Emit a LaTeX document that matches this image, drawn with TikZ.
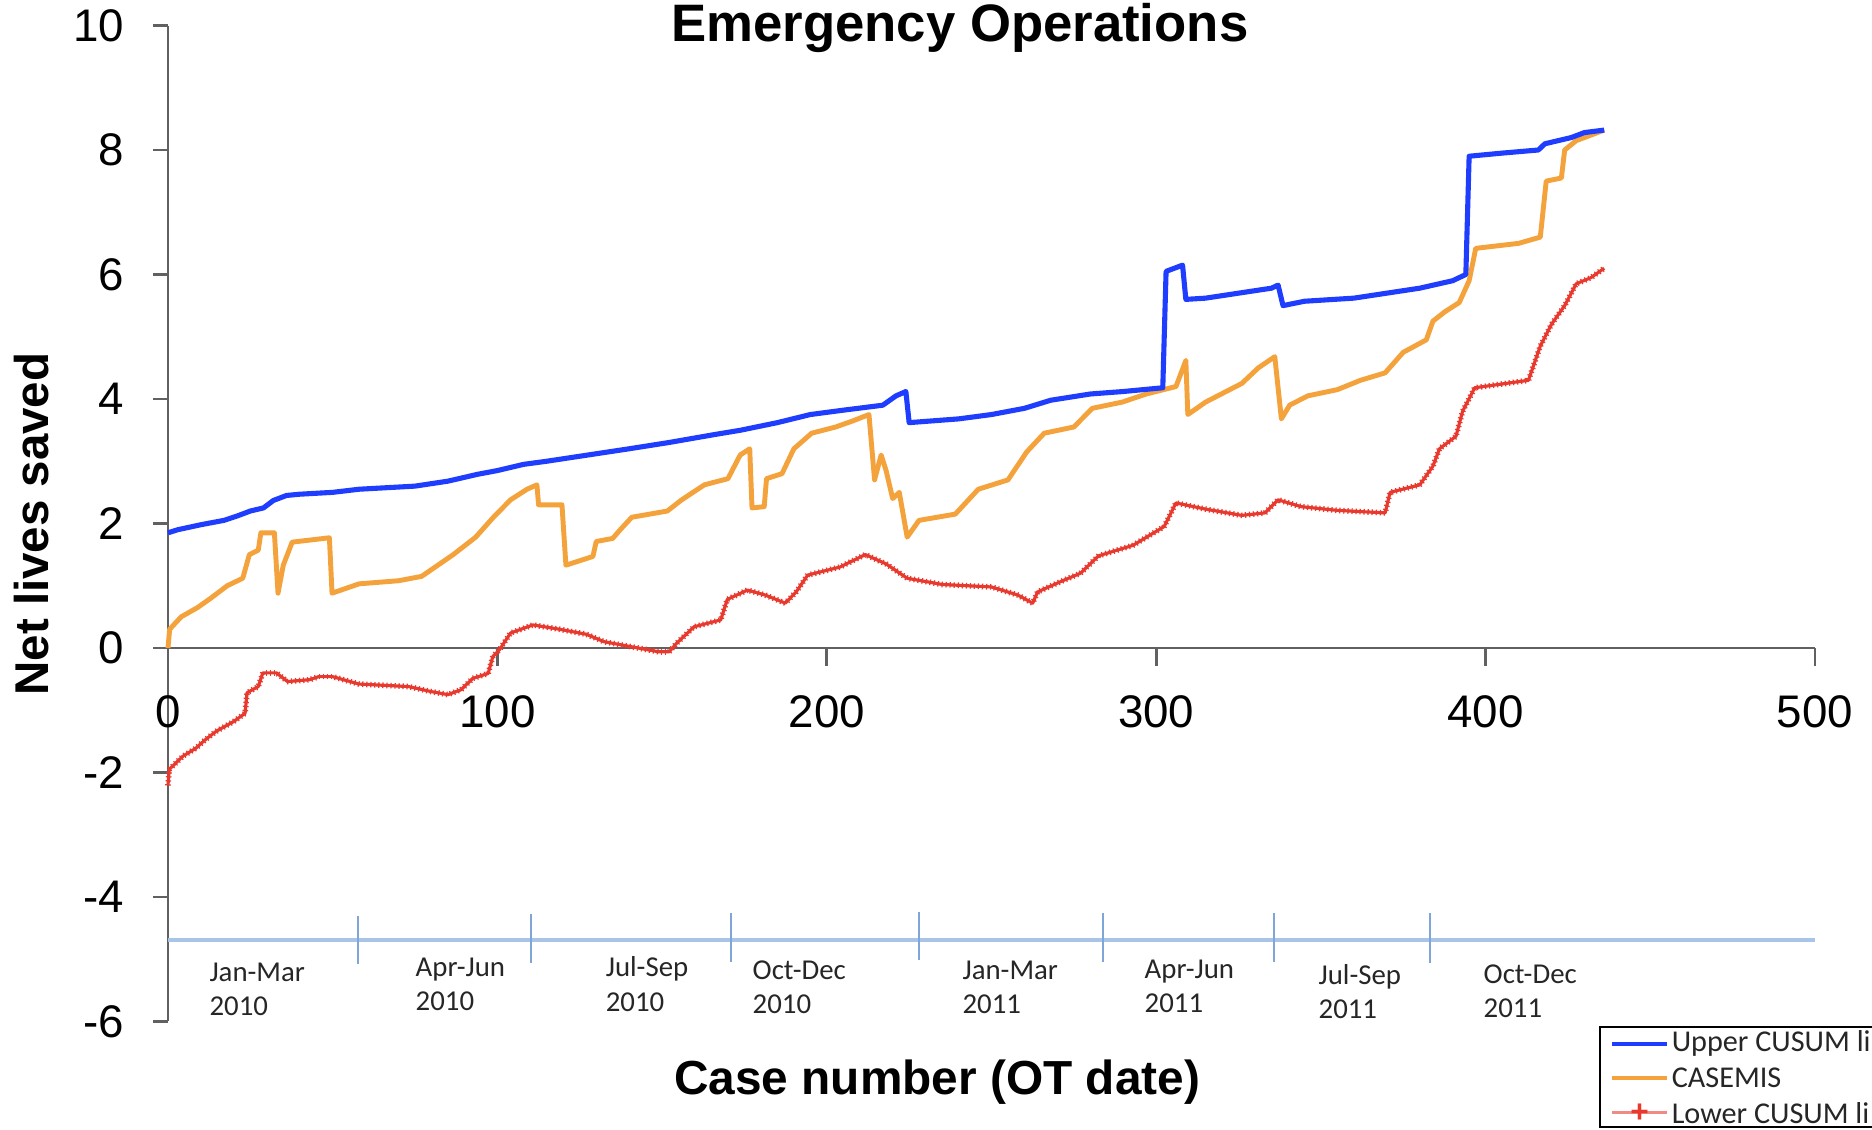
\documentclass[tikz,border=0pt]{standalone}
\usepackage{fontspec}
\setmainfont{Liberation Sans}
\newfontfamily\calib{Carlito}
\usetikzlibrary{calc,decorations.markings}
\definecolor{upperblue}{HTML}{1E3DFF}
\definecolor{casorange}{HTML}{F4A33C}
\definecolor{lowred}{HTML}{E8392E}
\definecolor{legred}{HTML}{F08A84}
\definecolor{qline}{HTML}{A8C4E6}
\definecolor{qsep}{HTML}{7EA6D8}
\begin{document}
\begin{tikzpicture}[x=0.03294cm, y=0.6225cm,
  axis/.style={draw=black!62, line width=0.8pt},
  upper/.style={draw=upperblue, line width=1.45pt, line join=round},
  casemis/.style={draw=casorange, line width=1.4pt, line join=round},
  lower/.style={draw=lowred, line width=0.9pt, line join=round,
    postaction={decorate, decoration={markings,
      mark=between positions 0 and 1 step 1.15pt with {\draw[lowred, line width=0.35pt] (0,-0.8pt) -- (0,0.8pt);}}}},
  ticklab/.style={font=\fontsize{13}{15}\selectfont},
  qlab/.style={font=\calib\fontsize{8.2}{9.7}\selectfont, align=left, anchor=west, inner sep=0pt, text=black!85},
  leglab/.style={font=\calib\fontsize{8.6}{10}\selectfont, anchor=west, inner sep=0pt, text=black!85}]
\useasboundingbox (-51,-7.743) rectangle (517.3,10.41);
\clip (-51,-7.743) rectangle (517.3,10.41);

% axes
\draw[axis] (0,-6) -- (0,10);
\draw[axis] (0,0) -- (500,0);
\foreach \y in {-6,-4,...,10} {
  \draw[axis] (-4.55,\y) -- (0,\y);
  \node[ticklab, anchor=east, inner sep=0pt] (y\y) at (-13.05,\y) {\y};
}
\foreach \x in {100,200,...,500}
  \draw[axis] (\x,0) -- (\x,-0.29);
\foreach \x in {0,100,...,500}
  \node[ticklab] (x\x) at (\x,-1.03) {\x};

\node[font=\bfseries\fontsize{15}{18}\selectfont, anchor=base] (title) at (240.4,9.75) {Emergency Operations};
\node[font=\bfseries\fontsize{13.6}{16}\selectfont, anchor=base] (xlab) at (233.5,-7.18) {Case number (OT date)};
\node[font=\bfseries\fontsize{13.5}{16}\selectfont, rotate=90, anchor=base] (ylab) at (-36.4,1.99) {Net lives saved};

% quarters
\draw[qline, line width=1.1pt] (0,-4.69) -- (500,-4.69);
\foreach \q/\t/\b in {57.7/-4.30/-5.08, 110.2/-4.28/-5.06, 170.9/-4.26/-5.04, 228/-4.24/-5.02, 283.8/-4.26/-5.04, 335.8/-4.26/-5.04, 383.1/-4.26/-5.06}
  \draw[qsep, line width=0.5pt] (\q,\t) -- (\q,\b);
\node[qlab] (q1) at (12.4,-5.49) {Jan-Mar\\2010};
\node[qlab] (q2) at (75,-5.40) {Apr-Jun\\2010};
\node[qlab] (q3) at (132.7,-5.40) {Jul-Sep\\2010};
\node[qlab] (q4) at (177.3,-5.45) {Oct-Dec\\2010};
\node[qlab] (q5) at (241,-5.46) {Jan-Mar\\2011};
\node[qlab] (q6) at (296.3,-5.43) {Apr-Jun\\2011};
\node[qlab] (q7) at (349.1,-5.52) {Jul-Sep\\2011};
\node[qlab] (q8) at (399.2,-5.52) {Oct-Dec\\2011};

% series
\draw[lower] plot coordinates {
 (0,-2.2) (0.4,-1.95) (4.5,-1.74) (8.5,-1.61) (11.2,-1.48) (14.6,-1.34) (20,-1.18) (23.4,-1.05)
 (24,-0.72) (27.4,-0.62) (28.8,-0.4) (32.9,-0.4) (36.3,-0.54) (43,-0.51) (45.8,-0.46) (49.9,-0.46)
 (58,-0.58) (73,-0.62) (79.8,-0.7) (85,-0.75) (89,-0.67) (92.5,-0.49) (97.2,-0.41) (98.6,-0.14)
 (100.6,-0.03) (104,0.24) (110.8,0.37) (118.9,0.3) (127,0.22) (132.4,0.1) (140.6,0.02) (148.8,-0.06)
 (152.2,-0.06) (154.3,0.07) (159.7,0.34) (167.8,0.45) (169.8,0.78) (175.9,0.93) (181.3,0.85)
 (187.4,0.72) (190.7,0.9) (194.2,1.17) (204,1.3) (211.7,1.5) (218,1.35) (224.4,1.12) (235,1.02)
 (250,0.98) (258,0.85) (262.5,0.72) (264,0.9) (271.6,1.08) (277,1.2) (282.5,1.48) (293,1.65)
 (302.4,1.95) (306,2.33) (315,2.23) (326,2.13) (333,2.17) (337,2.38) (344,2.27) (355,2.21)
 (369.5,2.17) (371,2.5) (380,2.62) (384,2.92) (386,3.2) (391,3.4) (393,3.8) (396.7,4.18) (413,4.3)
 (416.6,4.85) (420,5.2) (424,5.5) (427.5,5.85) (432,5.95) (436,6.1)};
\draw[casemis] plot coordinates {
 (0,0) (0.5,0.3) (4,0.5) (9,0.65) (13,0.8) (18,1.0) (22.7,1.12) (24.7,1.5) (27.4,1.57) (28.2,1.85)
 (32.3,1.85) (33.4,0.88) (35,1.33) (37.7,1.7) (49,1.77) (49.8,0.88) (58,1.03) (70,1.08) (77,1.15)
 (86.6,1.5) (93.4,1.78) (98.8,2.1) (104,2.38) (109,2.55) (112,2.62) (112.5,2.3) (119.6,2.3)
 (120.8,1.33) (129,1.47) (130,1.71) (135,1.76) (137.3,1.9) (140.8,2.1) (151.6,2.2) (155.7,2.37)
 (162.8,2.62) (170,2.72) (173.7,3.1) (176.6,3.2) (177.3,2.25) (181,2.27) (181.7,2.72) (186.4,2.8)
 (190,3.2) (195.4,3.45) (202.7,3.55) (208,3.65) (212.8,3.75) (214.5,2.7) (216.5,3.1) (218,2.85)
 (220,2.4) (222,2.5) (224.4,1.78) (228,2.05) (239,2.15) (246,2.55) (255,2.7) (260.7,3.15)
 (266,3.45) (275,3.55) (280.6,3.85) (289.7,3.95) (297,4.08) (306,4.2) (309,4.62) (309.6,3.75)
 (315,3.95) (326,4.25) (331,4.5) (336,4.68) (338,3.68) (340.5,3.9) (346,4.05) (355,4.15) (362,4.3)
 (369.5,4.42) (375,4.75) (382,4.95) (384,5.25) (387.6,5.4) (392,5.55) (395,5.9) (397,6.42)
 (410,6.5) (416.6,6.6) (418.4,7.5) (423,7.55) (424,8.0) (427.5,8.15) (436,8.32)};
\draw[upper] plot coordinates {
 (0,1.85) (3,1.9) (10,1.98) (17,2.05) (21,2.12) (25,2.2) (29,2.25) (32,2.37) (36,2.45) (40,2.47)
 (50,2.5) (58,2.55) (75,2.6) (85,2.68) (94,2.79) (100,2.85) (108,2.95) (115,3.0) (130,3.12)
 (140,3.2) (152,3.3) (165,3.42) (174,3.5) (185,3.62) (195,3.75) (205,3.82) (217,3.9) (221,4.05)
 (224,4.12) (225,3.62) (240,3.68) (250,3.75) (260,3.85) (268,3.98) (280,4.08) (290,4.12)
 (302,4.18) (303,6.05) (308,6.15) (309,5.6) (315,5.62) (325,5.7) (335,5.78) (337,5.83)
 (338.5,5.5) (345,5.57) (360,5.62) (370,5.7) (380,5.78) (390,5.9) (394,6.0) (395,7.9) (405,7.95)
 (416,8.0) (418,8.1) (422,8.15) (426,8.2) (430,8.28) (436,8.32)};

% legend
\draw[black, line width=0.6pt] (434.7,-6.09) rectangle (540,-7.69);
\coordinate (l1a) at (438.4,-6.36); \coordinate (l1b) at (455.1,-6.36);
\coordinate (l2a) at (438.4,-6.91); \coordinate (l2b) at (455.1,-6.91);
\coordinate (l3a) at (438.4,-7.47); \coordinate (l3b) at (455.1,-7.47);
\draw[upper, line width=1.2pt] (l1a) -- (l1b);
\draw[casemis, line width=1.2pt] (l2a) -- (l2b);
\draw[draw=legred, line width=0.9pt] (l3a) -- (l3b);
\node[text=lowred, inner sep=0pt, font=\small\bfseries] (l3m) at ($(l3a)!0.5!(l3b)$) {+};
\node[leglab] (leg1) at (456.3,-6.36) {Upper CUSUM li};
\node[leglab] (leg2) at (456.3,-6.91) {CASEMIS};
\node[leglab] (leg3) at (456.3,-7.47) {Lower CUSUM li};
\end{tikzpicture}
\end{document}
